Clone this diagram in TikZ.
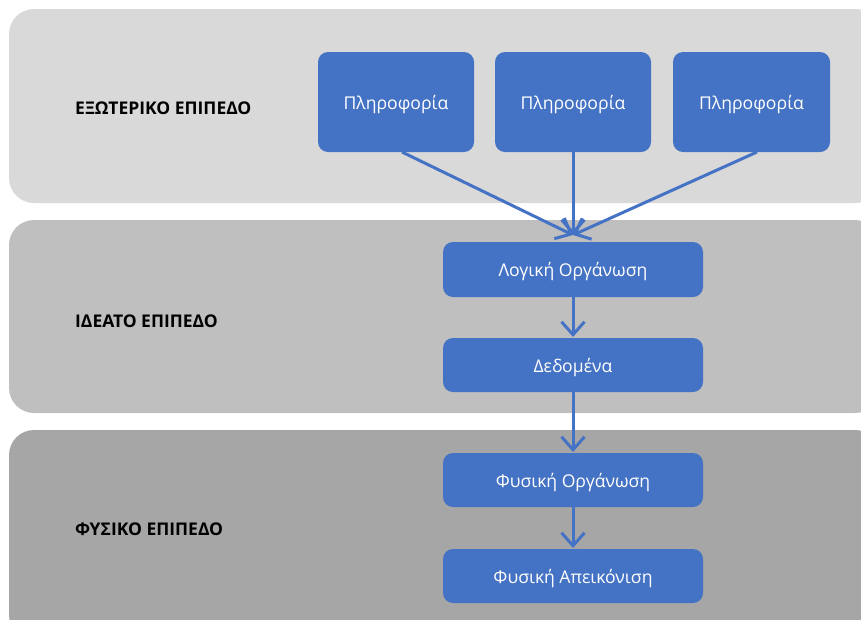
\documentclass[tikz,border=0pt]{standalone}
\usepackage{fontspec}
\setmainfont{Open Sans}
\usetikzlibrary{arrows.meta}
\definecolor{bandA}{HTML}{D9D9D9}
\definecolor{bandB}{HTML}{BFBFBF}
\definecolor{bandC}{HTML}{A6A6A6}
\definecolor{boxblue}{HTML}{4472C4}
\begin{document}
\begin{tikzpicture}[x=1pt,y=-1pt,
  band/.style={rounded corners=25pt},
  levellabel/.style={anchor=west,inner sep=0pt,font=\fontsize{17.5}{20}\selectfont\bfseries,text=black},
  bluebox/.style={fill=boxblue,rounded corners=10pt,text=white,
    font=\fontsize{17.6}{21}\selectfont,align=center},
  boxtext/.style={midway,yshift=-2.5pt},
  flow/.style={draw=boxblue,line width=3pt,
    -{Straight Barb[length=13pt,width=23pt,line width=3pt]}}]
\useasboundingbox (0,0) rectangle (861,619);
\begin{scope}
\clip (0,0) rectangle (861,619);
% the three levels
\fill[bandA,band] (9,9) rectangle (880,203);
\fill[bandB,band] (9,220) rectangle (880,413);
\fill[bandC,band] (9,430) rectangle (880,640);
\end{scope}
% level names
\node[levellabel] (lext) at (75,108) {ΕΞΩΤΕΡΙΚΟ ΕΠΙΠΕΔΟ};
\node[levellabel] (lide) at (75,321) {ΙΔΕΑΤΟ ΕΠΙΠΕΔΟ};
\node[levellabel] (lphy) at (75,529) {ΦΥΣΙΚΟ ΕΠΙΠΕΔΟ};
% information boxes
\path[bluebox] (318,52) rectangle (474,152) node[boxtext] (i1) {Πληροφορία};
\path[bluebox] (495,52) rectangle (651,152) node[boxtext] (i2) {Πληροφορία};
\path[bluebox] (673,52) rectangle (830,152) node[boxtext] (i3) {Πληροφορία};
\coordinate (i1b) at (402,152);
\coordinate (i2b) at (573,152);
\coordinate (i3b) at (757,152);
% processing chain
\path[bluebox] (443,242) rectangle (703,297) node[boxtext] (lo) {Λογική Οργάνωση};
\path[bluebox] (443,338) rectangle (703,392) node[boxtext] (de) {Δεδομένα};
\path[bluebox] (443,453) rectangle (703,507) node[boxtext] (po) {Φυσική Οργάνωση};
\path[bluebox] (443,549) rectangle (703,603) node[boxtext] (pa) {Φυσική Απεικόνιση};
\coordinate (meet) at (573,235);
\coordinate (lob) at (573,297);
\coordinate (det) at (573,337);
\coordinate (deb) at (573,392);
\coordinate (pot) at (573,452);
\coordinate (pob) at (573,507);
\coordinate (pat) at (573,548);
% connectors
\draw[flow] (i1b) -- (meet);
\draw[flow] (i2b) -- (meet);
\draw[flow] (i3b) -- (meet);
\draw[flow] (lob) -- (det);
\draw[flow] (deb) -- (pot);
\draw[flow] (pob) -- (pat);
\end{tikzpicture}
\end{document}
